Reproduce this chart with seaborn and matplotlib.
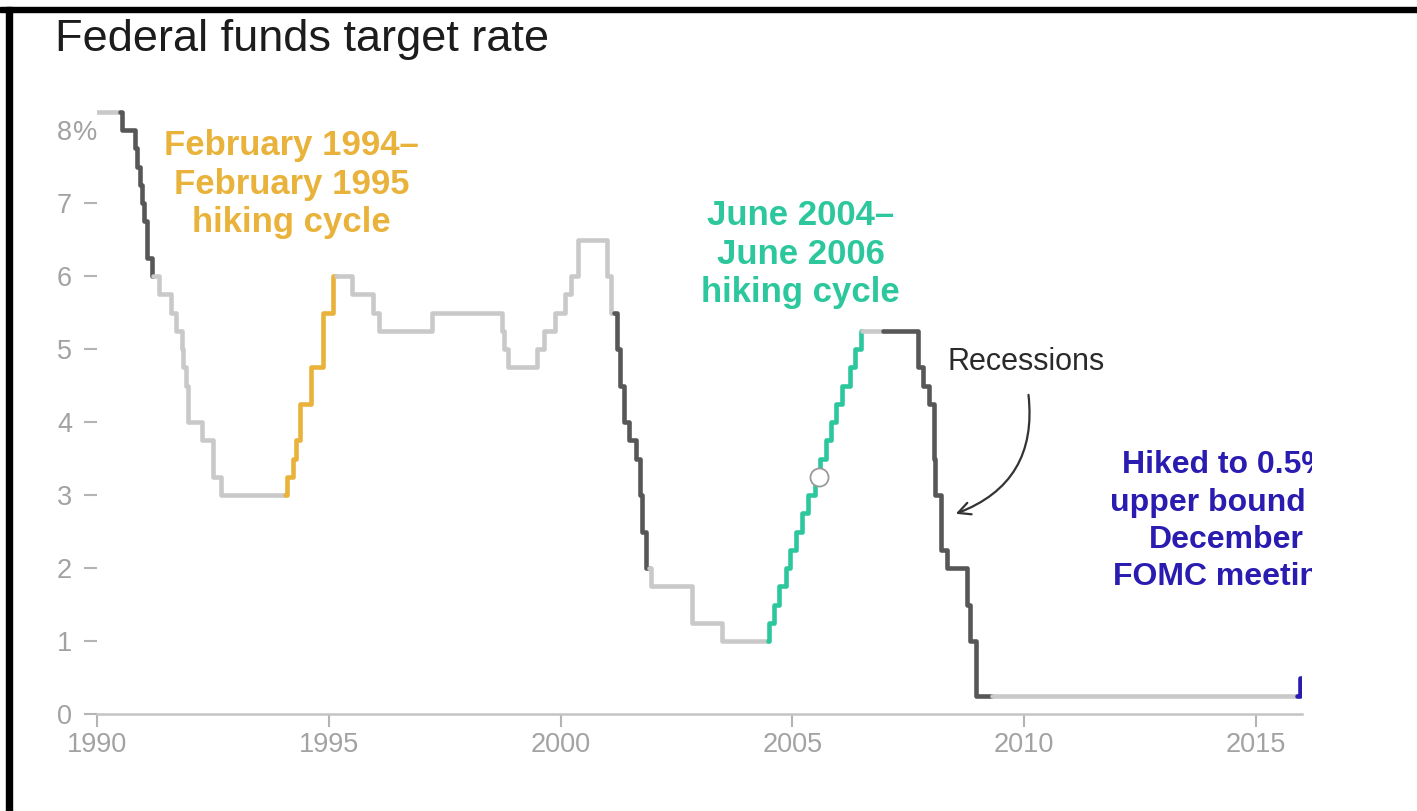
import pandas as pd
import seaborn as sns
import matplotlib.pyplot as plt
from matplotlib.patches import Rectangle
from matplotlib.transforms import Bbox, TransformedBbox

# Fed funds target rate (upper bound), change dates and new levels
change_dates = [
    "1990-01-01", "1990-07-13", "1990-10-29", "1990-11-13", "1990-12-07", "1990-12-18",
    "1991-01-09", "1991-02-01", "1991-03-08", "1991-04-30", "1991-08-06", "1991-09-13",
    "1991-10-31", "1991-11-06", "1991-12-06", "1991-12-20", "1992-04-09", "1992-07-02",
    "1992-09-04", "1994-02-04", "1994-03-22", "1994-04-18", "1994-05-17", "1994-08-16",
    "1994-11-15", "1995-02-01", "1995-07-06", "1995-12-19", "1996-01-31", "1997-03-25",
    "1998-09-29", "1998-10-15", "1998-11-17", "1999-06-30", "1999-08-24", "1999-11-16",
    "2000-02-02", "2000-03-21", "2000-05-16", "2001-01-03", "2001-01-31", "2001-03-20",
    "2001-04-18", "2001-05-15", "2001-06-27", "2001-08-21", "2001-09-17", "2001-10-02",
    "2001-11-06", "2001-12-11", "2002-11-06", "2003-06-25", "2004-06-30", "2004-08-10",
    "2004-09-21", "2004-11-10", "2004-12-14", "2005-02-02", "2005-03-22", "2005-05-03",
    "2005-06-30", "2005-08-09", "2005-09-20", "2005-11-01", "2005-12-13", "2006-01-31",
    "2006-03-28", "2006-05-10", "2006-06-29", "2007-09-18", "2007-10-31", "2007-12-11",
    "2008-01-22", "2008-01-30", "2008-03-18", "2008-04-30", "2008-10-08", "2008-10-29",
    "2008-12-16", "2015-12-16",
]
rates = [
    8.25, 8.0, 7.75, 7.5, 7.25, 7.0,
    6.75, 6.25, 6.0, 5.75, 5.5, 5.25,
    5.0, 4.75, 4.5, 4.0, 3.75, 3.25,
    3.0, 3.25, 3.5, 3.75, 4.25, 4.75,
    5.5, 6.0, 5.75, 5.5, 5.25, 5.5,
    5.25, 5.0, 4.75, 5.0, 5.25, 5.5,
    5.75, 6.0, 6.5, 6.0, 5.5, 5.0,
    4.5, 4.0, 3.75, 3.5, 3.0, 2.5,
    2.0, 1.75, 1.25, 1.0, 1.25, 1.5,
    1.75, 2.0, 2.25, 2.5, 2.75, 3.0,
    3.25, 3.5, 3.75, 4.0, 4.25, 4.5,
    4.75, 5.0, 5.25, 4.75, 4.5, 4.25,
    3.5, 3.0, 2.25, 2.0, 1.5, 1.0,
    0.25, 0.5,
]
end_year = 2016.0

# highlighted spans (start, end, colour)
span_starts = [1990.5, 1994.05, 2001.15, 2004.48, 2006.95, 2015.9]
span_ends = [1991.2, 1995.15, 2001.9, 2006.5, 2009.3, 2016.0]
span_kinds = ["recession", "hike94", "recession", "hike04", "recession", "hike15"]

hover_x = [2005.57]
hover_y = [3.25]

x_ticks = [1990, 1995, 2000, 2005, 2010, 2015]
y_ticks = [0, 1, 2, 3, 4, 5, 6, 7, 8]

colors = {
    "base": "#c9c9c9",
    "recession": "#575757",
    "hike94": "#e9b23a",
    "hike04": "#2cc79c",
    "hike15": "#2a1cb0",
}

# decimal years
d = pd.to_datetime(pd.Series(change_dates))
years = (d.dt.year + (d.dt.dayofyear - 1) / 365.0).tolist()


def rate_before(t):
    val = rates[0]
    for yy, rr in zip(years, rates):
        if yy < t:
            val = rr
    return val


# split the step series into coloured pieces
bounds = [1990.0]
kinds = []
pos = 1990.0
for s, e, k in zip(span_starts, span_ends, span_kinds):
    if s > pos:
        bounds.append(s)
        kinds.append("base")
    bounds.append(e)
    kinds.append(k)
    pos = e
if pos < end_year:
    bounds.append(end_year)
    kinds.append("base")

rows = []
for i, k in enumerate(kinds):
    a, b = bounds[i], bounds[i + 1]
    rows.append((i, a, rate_before(a) if a > years[0] else rates[0]))
    for yy, rr in zip(years, rates):
        if a <= yy < b:
            rows.append((i, yy, rr))
    rows.append((i, b, rate_before(b)))
    if k == "hike15":
        rows.append((i, b, rates[-1]))
df = pd.DataFrame(rows, columns=["seg", "year", "rate"])
palette = {i: colors[k] for i, k in enumerate(kinds)}

sns.set_style("white")
plt.rcParams["font.family"] = ["Liberation Sans", "DejaVu Sans"]

fig = plt.figure(figsize=(14.17, 8.11), dpi=100)
ax = fig.add_axes([0.0685, 0.1196, 0.8504, 0.756])

sns.lineplot(data=df, x="year", y="rate", hue="seg", palette=palette, units="seg",
             estimator=None, sort=False, drawstyle="steps-post", linewidth=3.3,
             legend=False, ax=ax)
ax.scatter(hover_x, hover_y, s=170, facecolor="white", edgecolor="#9a9a9a",
           linewidth=1.3, zorder=5)

ax.set_xlim(1990, 2016.0)
ax.set_ylim(0, 8.4)
ax.set_xticks(x_ticks)
ax.set_xticklabels([str(x) for x in x_ticks])
ax.set_yticks(y_ticks)
ax.set_yticklabels([str(y) for y in y_ticks])
ax.set_xlabel("")
ax.set_ylabel("")
sns.despine(ax=ax, left=True)
ax.spines["bottom"].set_color("#c4c4c4")
ax.spines["bottom"].set_linewidth(1.8)
ax.tick_params(axis="both", colors="#b4b4b4", labelcolor="#a2a2a2", labelsize=19.5,
               width=1.5, direction="out", bottom=True, left=True)
ax.tick_params(axis="y", length=9.5, pad=8.5)
ax.tick_params(axis="x", length=9, pad=4)
# top label carries the % sign in place of its tick
ax.yaxis.get_major_ticks()[-1].tick1line.set_visible(False)
ax.annotate("%", xy=(0, 8), xycoords=("axes fraction", "data"), xytext=(-17.5, 0),
            textcoords="offset points", ha="left", va="center_baseline",
            fontsize=19.5, color="#a2a2a2")

# annotations
ax.text(1994.2, 7.26, "February 1994–\nFebruary 1995\nhiking cycle", color="#e9b23a",
        fontsize=25, fontweight="bold", ha="center", va="center", linespacing=1.2)
ax.text(2005.18, 6.30, "June 2004–\nJune 2006\nhiking cycle", color="#2cc79c",
        fontsize=25, fontweight="bold", ha="center", va="center", linespacing=1.2)
ax.text(2010.04, 4.82, "Recessions", color="#2a2a2a", fontsize=22,
        ha="center", va="center")
ax.annotate("", xy=(2008.47, 2.73), xytext=(2010.09, 4.41),
            arrowprops=dict(arrowstyle="->", color="#333333", lw=1.6,
                            connectionstyle="arc3,rad=-0.4", mutation_scale=22))
t = ax.text(2014.36, 2.64, "Hiked to 0.5%\nupper bound at\nDecember\nFOMC meeting",
            color="#2a1cb0", fontsize=23, fontweight="bold", ha="center", va="center",
            linespacing=1.32)
t.set_clip_path(None)
t.set_clip_box(TransformedBbox(Bbox([[0, 0], [0.926, 1]]), fig.transFigure))
t.set_clip_on(True)

fig.text(0.039, 0.951, "Federal funds target rate", fontsize=32.5, color="#1c1c1c",
         ha="left", va="center")

# screenshot frame (top and left edges)
fig.add_artist(Rectangle((0, 0.985), 1, 0.0064, transform=fig.transFigure,
                         color="black", zorder=10))
fig.add_artist(Rectangle((0.0042, 0), 0.0043, 0.9914, transform=fig.transFigure,
                         color="black", zorder=10))

fig.savefig("out.png", dpi=100)
